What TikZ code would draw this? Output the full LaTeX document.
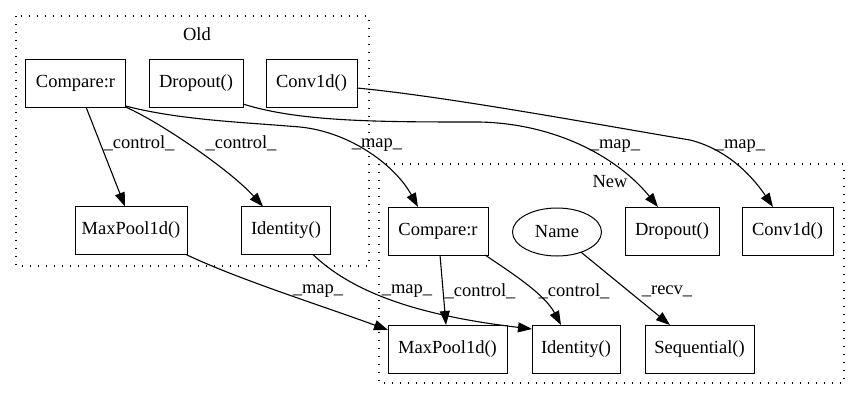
\documentclass[tikz,border=0pt]{standalone}
\usepackage{fontspec}
\setmainfont{Liberation Serif}
\usetikzlibrary{arrows.meta,shapes.geometric}
\begin{document}
\begin{tikzpicture}[x=1pt,y=-1pt,
  every node/.style={font=\fontsize{18.5}{22}\selectfont},
  box/.style={draw,line width=1pt,inner sep=0pt,outer sep=0pt,minimum height=48pt},
  oval/.style={draw,ellipse,line width=1pt,inner sep=0pt,outer sep=0pt,minimum width=89pt,minimum height=48pt},
  cluster/.style={draw,line width=1.3pt,dash pattern=on 1.4pt off 6.6pt},
  edge/.style={draw,line width=1.1pt,-{Triangle[length=14pt,width=10pt]}},
  lbl/.style={inner sep=0pt}]
\useasboundingbox (0,0) rectangle (860,400);
% clusters
\draw[cluster] (16,16) rectangle (369,266);
\draw[cluster] (379,164) rectangle (844,383);
\node[lbl] (oldt) at (197,34) {Old};
\node[lbl] (newt) at (610,182) {New};
% old nodes
\node[box,minimum width=100pt] (oc) at (75.5,83) {Compare:r};
\node[box,minimum width=94pt] (od) at (196,83) {Dropout()};
\node[box,minimum width=91pt] (ov) at (311.5,83) {Conv1d()};
\node[box,minimum width=112pt] (om) at (131,230.5) {MaxPool1d()};
\node[box,minimum width=89pt] (oi) at (286,230.5) {Identity()};
% new nodes
\node[box,minimum width=100pt] (nc) at (438,231) {Compare:r};
\node[oval] (nn) at (557,232) {Name};
\node[box,minimum width=94pt] (nd) at (672,231) {Dropout()};
\node[box,minimum width=91pt] (nv) at (787.5,231) {Conv1d()};
\node[box,minimum width=119pt] (nm) at (447.5,349) {MaxPool1d()};
\node[box,minimum width=88pt] (ni) at (576,349) {Identity()};
\node[box,minimum width=109pt] (ns) at (699.5,349) {Sequential()};
% edges
\draw[edge] ([xshift=10.5pt]oc.south) -- ([xshift=-6pt]om.north);
\draw[edge] (oc.south east) .. controls (160,122) and (230,170) .. ([xshift=-23pt]oi.north);
\draw[edge] ([yshift=1pt]oc.south east) .. controls (180,120) and (240,122) .. (300,127)
   .. controls (350,132) and (395,165) .. ([xshift=-20pt]nc.north);
\draw[edge] ([yshift=3pt]od.south east) .. controls (300,122) and (380,122) .. (480,122)
   .. controls (560,124) and (620,160) .. ([xshift=-14pt]nd.north);
\draw[edge] ([yshift=-5pt]ov.east) .. controls (450,97) and (600,125) .. (690,140)
   .. controls (730,150) and (755,180) .. ([xshift=-14.5pt]nv.north);
\draw[edge] ([xshift=-1pt]om.south east) .. controls (240,280) and (320,305) .. ([yshift=19pt]nm.west);
\draw[edge] ([xshift=27pt]oi.south) .. controls (360,300) and (440,318) .. ([yshift=20pt]ni.west);
\draw[edge] ([xshift=2pt]nc.south) -- ([xshift=-1.5pt]nm.north);
\draw[edge] ([xshift=-3pt]nc.south east) .. controls (515,275) and (545,295) .. ([xshift=-15pt]ni.north);
\draw[edge] (nn.-40) -- ([xshift=-29.5pt]ns.north);
% labels
\node[lbl] (l1) at (139,143) {\_control\_};
\node[lbl] (l2) at (241,143) {\_control\_};
\node[lbl] (l3) at (377,145) {\_map\_};
\node[lbl] (l4) at (615,146) {\_map\_};
\node[lbl] (l5) at (740,146) {\_map\_};
\node[lbl] (l6) at (318,291) {\_map\_};
\node[lbl] (l7) at (407,291) {\_map\_};
\node[lbl] (l8) at (480,291) {\_control\_};
\node[lbl] (l9) at (574,291) {\_control\_};
\node[lbl] (l10) at (667,291) {\_recv\_};
\end{tikzpicture}
\end{document}
